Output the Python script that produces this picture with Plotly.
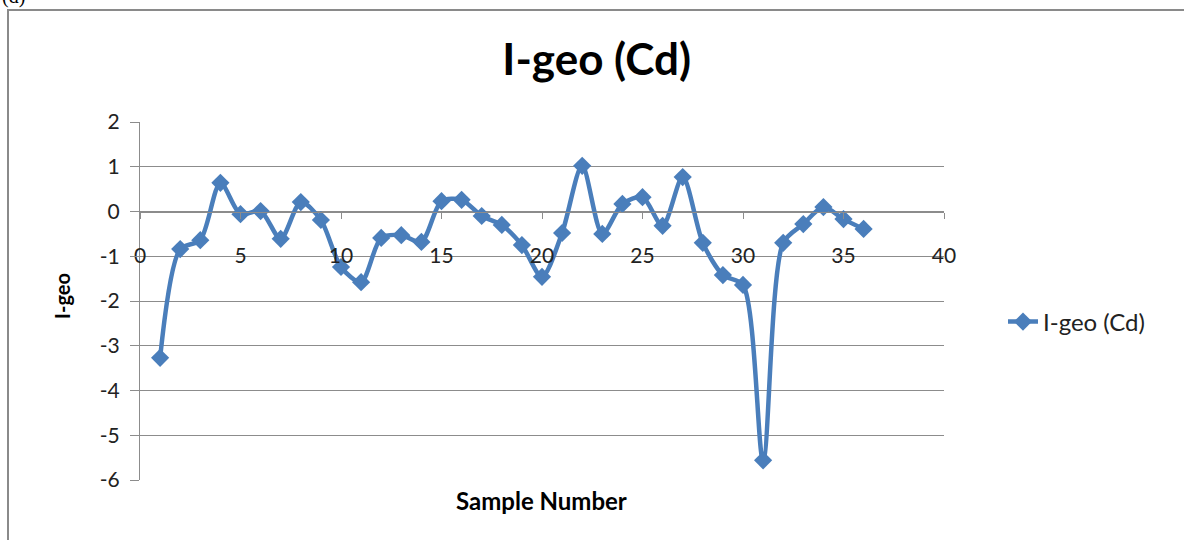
import plotly.graph_objects as go

samples = list(range(1, 37))
igeo_cd = [-3.27, -0.84, -0.64, 0.64, -0.06, 0.01, -0.61, 0.21, -0.19, -1.24,
           -1.58, -0.59, -0.53, -0.68, 0.23, 0.26, -0.10, -0.30, -0.75, -1.46,
           -0.48, 1.02, -0.50, 0.17, 0.32, -0.32, 0.77, -0.70, -1.42, -1.64,
           -5.56, -0.70, -0.28, 0.10, -0.17, -0.39]
x_ticks = [0, 5, 10, 15, 20, 25, 30, 35, 40]
y_ticks = [2, 1, 0, -1, -2, -3, -4, -5, -6]

BLUE = "#4A7EBB"
GRID = "#8C8C8C"
FONT = "Lato"

# plot area in pixels: x 140..944, y 122..480
PL, PR, PT, PB = 140, 944, 122, 480
W, H = PR - PL, PB - PT


def px(x):
    return (x - PL) / W


def py(y):
    return (PB - y) / H


fig = go.Figure()
fig.add_trace(go.Scatter(
    x=samples, y=igeo_cd, mode="lines+markers", name="I-geo (Cd)",
    line=dict(color=BLUE, width=4.5, shape="spline", smoothing=0.8),
    marker=dict(symbol="diamond", size=14, color=BLUE),
))

fig.update_layout(
    width=1184, height=540,
    margin=dict(l=PL, r=1184 - PR, t=PT, b=540 - PB),
    paper_bgcolor="white", plot_bgcolor="white",
    font=dict(family=FONT, color="black"),
    title=dict(text="<b>I-geo (Cd)</b>", x=0.504, xanchor="center",
               y=1 - 60 / 540, yanchor="middle",
               font=dict(size=44, family=FONT, color="black")),
    showlegend=True,
    legend=dict(x=px(1003), y=py(322), xanchor="left", yanchor="middle",
                font=dict(size=24, family=FONT, color="#222"),
                bgcolor="rgba(0,0,0,0)"),
    xaxis=dict(range=[0, 40], tickvals=x_ticks, ticktext=[str(v) for v in x_ticks],
               showgrid=False, zeroline=False, showline=True, linecolor=GRID,
               linewidth=1, ticks="outside", ticklen=6, tickcolor=GRID,
               anchor="free", position=0.75, ticklabelstandoff=19,
               tickfont=dict(size=21, family=FONT, color="#222")),
    yaxis=dict(range=[-6, 2], tickvals=y_ticks, ticktext=[str(v) for v in y_ticks],
               showgrid=True, gridcolor=GRID, gridwidth=1, zeroline=False,
               showline=True, linecolor=GRID, linewidth=1, ticks="outside",
               ticklen=9, tickcolor=GRID, domain=[0, 1], ticklabelstandoff=6,
               tickfont=dict(size=21, family=FONT, color="#222")),
)

# axis titles
fig.add_annotation(text="<b>Sample Number</b>", xref="paper", yref="paper",
                   x=px(541), y=py(500), xanchor="center",
                   yanchor="middle", showarrow=False,
                   font=dict(size=24, family=FONT, color="black"))
fig.add_annotation(text="<b>I-geo</b>", xref="paper", yref="paper",
                   x=px(62), y=py(296), xanchor="center",
                   yanchor="middle", showarrow=False, textangle=-90,
                   font=dict(size=20, family=FONT, color="black"))
# panel label (cut off at top edge, as in the source)
fig.add_annotation(text="(d)", xref="paper", yref="paper",
                   x=px(0), y=py(10), xanchor="left",
                   yanchor="bottom", showarrow=False,
                   font=dict(size=20, family="Liberation Serif", color="black"))
# outer border
fig.add_shape(type="rect", xref="paper", yref="paper",
              x0=px(8), x1=px(1192),
              y0=py(548), y1=py(10),
              line=dict(color="#8A8A8A", width=2), fillcolor="rgba(0,0,0,0)")

fig.write_html("out.html", config={"displayModeBar": False},
               post_script="document.body.style.margin='0';")
